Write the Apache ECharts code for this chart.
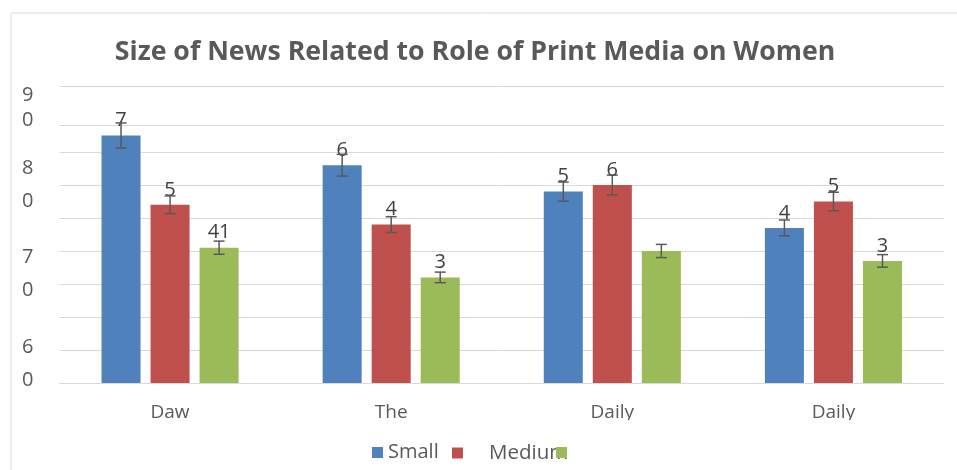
<!DOCTYPE html>
<html><head><meta charset="utf-8">
<script src="https://cdn.jsdelivr.net/npm/echarts@6/dist/echarts.min.js"></script>
<style>html,body{margin:0;padding:0;background:#fff}#c{width:957px;height:470px}</style>
</head><body><div id="c"></div>
<script>
const categories = ['Daw', 'The', 'Daily', 'Daily'];
const seriesNames = ['Small', 'Medium', 'Large'];
const smallValues = [75, 66, 58, 47];
const mediumValues = [54, 48, 60, 55];
const largeValues = [41, 32, 40, 37];
const smallErrors = [3.8, 3.3, 2.9, 2.4];
const mediumErrors = [2.7, 2.4, 3.0, 2.8];
const largeErrors = [2.0, 1.6, 2.0, 1.9];
const smallLabels = ['7', '6', '5', '4'];
const mediumLabels = ['5', '4', '6', '5'];
const largeLabels = ['41', '3', '', '3'];
const yTickLabels = ['60', '70', '80', '90'];
const yTickValues = [5.9, 33, 60, 83.5];
const gridValues = [0, 10, 20, 30, 40, 50, 60, 70, 78, 90];

const colors = ['#4F81BD', '#C0504D', '#9BBB59'];
const FONT = 'Open Sans';
const CAT_GAP = 0.38, BAR_GAP = 0.256;

const values = [smallValues, mediumValues, largeValues];
const errors = [smallErrors, mediumErrors, largeErrors];
const labels = [smallLabels, mediumLabels, largeLabels];

const chart = echarts.init(document.getElementById('c'));

const barSeries = seriesNames.map((name, k) => ({
  name: name,
  type: 'bar',
  data: values[k],
  barGap: (BAR_GAP * 100) + '%',
  barCategoryGap: (CAT_GAP * 100) + '%',
  itemStyle: { color: colors[k] },
  z: 2,
  label: {
    show: true,
    position: 'top',
    distance: 5,
    fontFamily: FONT,
    fontSize: 20,
    color: '#404040',
    formatter: p => labels[k][p.dataIndex]
  }
}));

const errSeries = seriesNames.map((name, k) => ({
  name: name + ' error',
  type: 'custom',
  z: 5,
  silent: true,
  data: values[k].map((v, i) => [i, v, errors[k][i]]),
  renderItem: (params, api) => {
    const c = api.value(0), v = api.value(1), e = api.value(2);
    const band = api.size([1, 0])[0];
    const bw = band * (1 - CAT_GAP) / (3 + 2 * BAR_GAP);
    const off = (k - 1) * bw * (1 + BAR_GAP);
    const top = api.coord([c, v + e]);
    const bot = api.coord([c, v - e]);
    const x = top[0] + off;
    const hw = 5.5;
    const st = { stroke: '#595959', lineWidth: 1.5 };
    return {
      type: 'group',
      children: [
        { type: 'line', shape: { x1: x, y1: top[1], x2: x, y2: bot[1] }, style: st },
        { type: 'line', shape: { x1: x - hw, y1: top[1], x2: x + hw, y2: top[1] }, style: st },
        { type: 'line', shape: { x1: x - hw, y1: bot[1], x2: x + hw, y2: bot[1] }, style: st }
      ]
    };
  }
}));

function yLabel(value) {
  let best = 0, bd = Infinity;
  yTickValues.forEach((t, i) => { const d = Math.abs(t - value); if (d < bd) { bd = d; best = i; } });
  const s = yTickLabels[best].split('');
  const style = best === yTickLabels.length - 1 ? 't' : 'n';
  return s.map(ch => '{' + style + '|' + ch + '}').join('\n');
}

const option = {
  animation: false,
  backgroundColor: '#fff',
  title: {
    text: 'Size of News Related to Role of Print Media on Women',
    left: 475,
    top: 39,
    textAlign: 'center',
    padding: 0,
    textStyle: { fontFamily: 'Open Sans', fontWeight: 'bold', fontSize: 26.7, color: '#595959' }
  },
  legend: [
    {
      data: ['Small'], left: 372, top: 442.5, padding: 0,
      itemWidth: 11, itemHeight: 11, selectedMode: false, icon: 'rect',
      textStyle: { fontFamily: FONT, fontSize: 20, color: '#595959' }
    },
    {
      data: ['Medium'], left: 452, top: 442.5, padding: 0,
      itemWidth: 11, itemHeight: 11, selectedMode: false, icon: 'rect',
      formatter: n => '{p|' + n + '}',
      textStyle: { fontFamily: FONT, fontSize: 20, color: '#595959',
        rich: { p: { fontFamily: FONT, fontSize: 20.5, color: '#595959', padding: [0, 0, 0, 21] } } }
    },
    {
      data: ['Large'], left: 556, top: 447, padding: 0, z: 10,
      itemWidth: 11, itemHeight: 11, selectedMode: false, icon: 'rect',
      formatter: () => '',
      textStyle: { fontFamily: FONT, fontSize: 1, color: '#595959' }
    }
  ],
  grid: { left: 59.5, right: 13, top: 86, bottom: 87 },
  xAxis: {
    type: 'category',
    data: categories,
    axisLine: { lineStyle: { color: '#d9d9d9', width: 1 } },
    axisTick: { show: false },
    axisLabel: { fontFamily: FONT, fontSize: 19, color: '#595959', margin: 20 }
  },
  yAxis: {
    type: 'value',
    min: 0,
    max: 90,
    axisLine: { show: false },
    axisTick: { show: false, customValues: gridValues },
    splitLine: { show: true, lineStyle: { color: '#d9d9d9', width: 1 } },
    axisLabel: {
      customValues: yTickValues,
      margin: 26,
      formatter: yLabel,
      rich: {
        n: { fontFamily: FONT, fontSize: 20, color: '#595959', lineHeight: 33 },
        t: { fontFamily: FONT, fontSize: 20, color: '#595959', lineHeight: 25 }
      }
    }
  },
  graphic: [
    { type: 'rect', z: -10, silent: true, shape: { x: 11, y: 13, width: 1000, height: 500 },
      style: { fill: 'none', stroke: '#d9d9d9', lineWidth: 1 } },
    { type: 'rect', z: 100, silent: true, shape: { x: 540, y: 420, width: 360, height: 10 },
      style: { fill: '#fff' } }
  ],
  series: barSeries.concat(errSeries)
};
chart.setOption(option);
</script>
</body></html>
